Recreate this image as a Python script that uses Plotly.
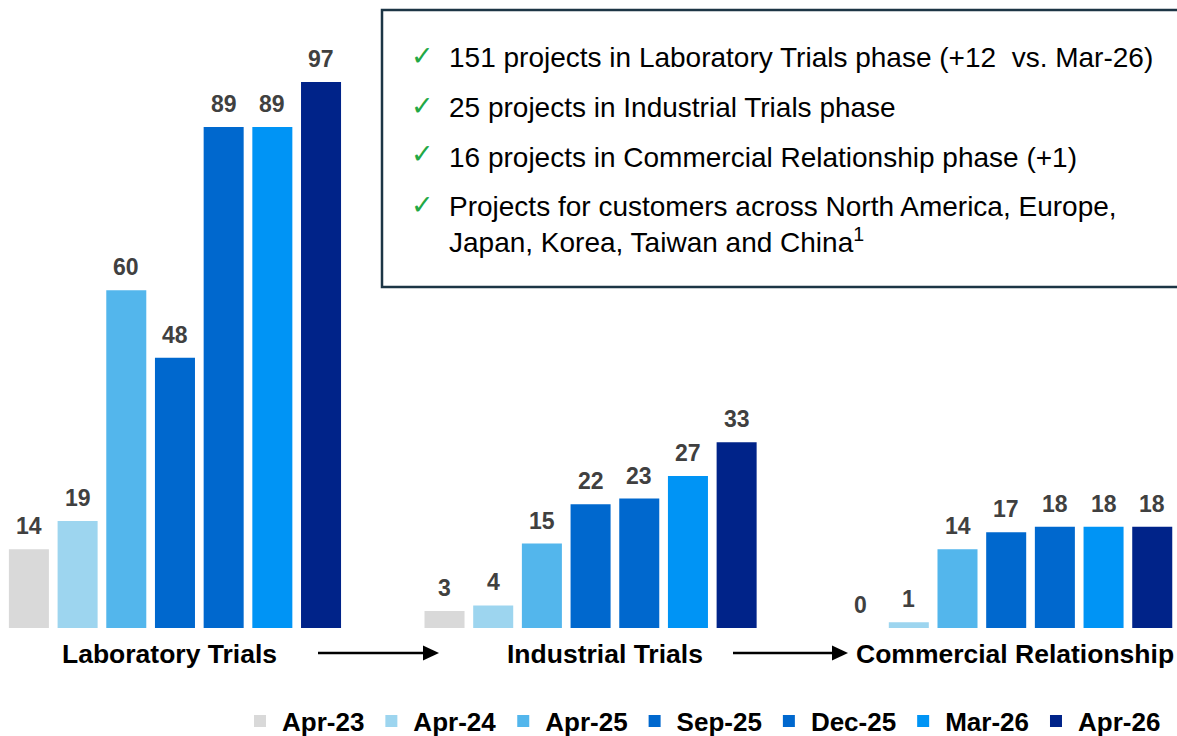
import plotly.graph_objects as go

categories = ["Laboratory Trials", "Industrial Trials", "Commercial Relationship"]
series_names = ["Apr-23", "Apr-24", "Apr-25", "Sep-25", "Dec-25", "Mar-26", "Apr-26"]

apr23 = [14, 3, 0]
apr24 = [19, 4, 1]
apr25 = [60, 15, 14]
sep25 = [48, 22, 17]
dec25 = [89, 23, 18]
mar26 = [89, 27, 18]
apr26 = [97, 33, 18]

bullets = [
    "151 projects in Laboratory Trials phase (+12\u00a0 vs. Mar-26)",
    "25 projects in Industrial Trials phase",
    "16 projects in Commercial Relationship phase (+1)",
    "Projects for customers across North America, Europe,<br>Japan, Korea, Taiwan and China<sup>1</sup>",
]

series_values = [apr23, apr24, apr25, sep25, dec25, mar26, apr26]
colors = ["#d9d9d9", "#9dd5ef", "#53b6ec", "#0068ce", "#0068ce", "#0094f5", "#002389"]

W, H = 1177, 736
PLOT_H = 628  # bar baseline row (top margin 0)
X_RANGE = [-0.421, 2.411]
Y_RANGE = [0, 111.57]
BARGAP = 0.18
GROUPGAP = 0.178
FONT = "Liberation Sans, Arial, sans-serif"


def px(x_px):
    # pixel column -> paper x
    return x_px / W


def py(y_px):
    # pixel row -> paper y
    return (PLOT_H - y_px) / PLOT_H


fig = go.Figure()
for name, vals, col in zip(series_names, series_values, colors):
    fig.add_trace(go.Bar(
        x=categories, y=vals, name=name,
        marker=dict(color=col, line=dict(width=0)),
        hoverinfo="x+y+name",
    ))

# value labels above each bar
px_per_unit = W / (X_RANGE[1] - X_RANGE[0])
slot_px = (1 - BARGAP) / len(series_names) * px_per_unit
annotations = []
for i, vals in enumerate(series_values):
    for cat, v in zip(categories, vals):
        annotations.append(dict(
            x=cat, y=v, xref="x", yref="y", text=f"<b>{v}</b>", showarrow=False,
            yanchor="bottom", yshift=8, xshift=(i - 3) * slot_px,
            font=dict(family=FONT, size=23, color="#404040"),
        ))

# category labels under the groups
for cat, shift in zip(categories, [-5, 14, 9]):
    annotations.append(dict(
        x=cat, y=py(654), xref="x", yref="paper", text=f"<b>{cat}</b>",
        showarrow=False, yanchor="middle", xshift=shift,
        font=dict(family=FONT, size=26.5, color="#000000"),
    ))

# arrows between phases (line + filled head)
shapes = []
for tail, tip in [(318, 439), (733, 848)]:
    shapes.append(dict(
        type="line", xref="paper", yref="paper",
        x0=px(tail), x1=px(tip - 12), y0=py(653), y1=py(653),
        line=dict(color="#000000", width=2.5),
    ))
    shapes.append(dict(
        type="path", xref="paper", yref="paper",
        path=(f"M{px(tip)},{py(653)} L{px(tip - 16)},{py(645.5)} "
              f"L{px(tip - 16)},{py(660.5)} Z"),
        fillcolor="#000000", line=dict(width=0),
    ))

# key messages box
for txt, yc in zip(bullets, [58, 108, 157, 225]):
    annotations.append(dict(
        x=px(447), y=py(yc), xref="paper", yref="paper", text=txt,
        showarrow=False, xanchor="left", yanchor="middle", align="left",
        font=dict(family=FONT, size=28, color="#000000"),
    ))
for yc in [55, 105, 154, 204]:
    annotations.append(dict(
        x=px(422), y=py(yc), xref="paper", yref="paper", text="\u2713",
        showarrow=False, xanchor="center", yanchor="middle",
        font=dict(family="DejaVu Sans", size=27, color="#22a845"),
    ))

shapes.append(dict(
    type="rect", xref="paper", yref="paper",
    x0=px(382), x1=px(1200), y0=py(287), y1=py(10),
    line=dict(color="#1c3545", width=2.5), fillcolor="white", layer="below",
))

fig.update_layout(
    width=W, height=H,
    barmode="group", bargap=BARGAP, bargroupgap=GROUPGAP,
    # keep the legend from pushing the plot area up
    margin=dict(l=0, r=0, t=0, b=H - PLOT_H, autoexpand=False),
    plot_bgcolor="white", paper_bgcolor="white",
    font=dict(family=FONT, color="#000000"),
    xaxis=dict(range=X_RANGE, showticklabels=False, showgrid=False,
               zeroline=False, showline=False, ticks=""),
    yaxis=dict(range=Y_RANGE, visible=False),
    showlegend=True,
    legend=dict(
        orientation="h", x=px(1166), xanchor="right", y=py(721), yanchor="middle",
        font=dict(family=FONT, size=26, color="#000000", weight="bold"),
        traceorder="normal", itemwidth=34, bgcolor="rgba(0,0,0,0)",
    ),
    shapes=shapes,
    annotations=annotations,
)

# drop the default page margin so the figure sits at the window origin
fig.write_html(
    "out.html",
    config={"displayModeBar": False},
    post_script="document.body.style.margin='0';"
                "document.documentElement.style.overflow='hidden';",
)
